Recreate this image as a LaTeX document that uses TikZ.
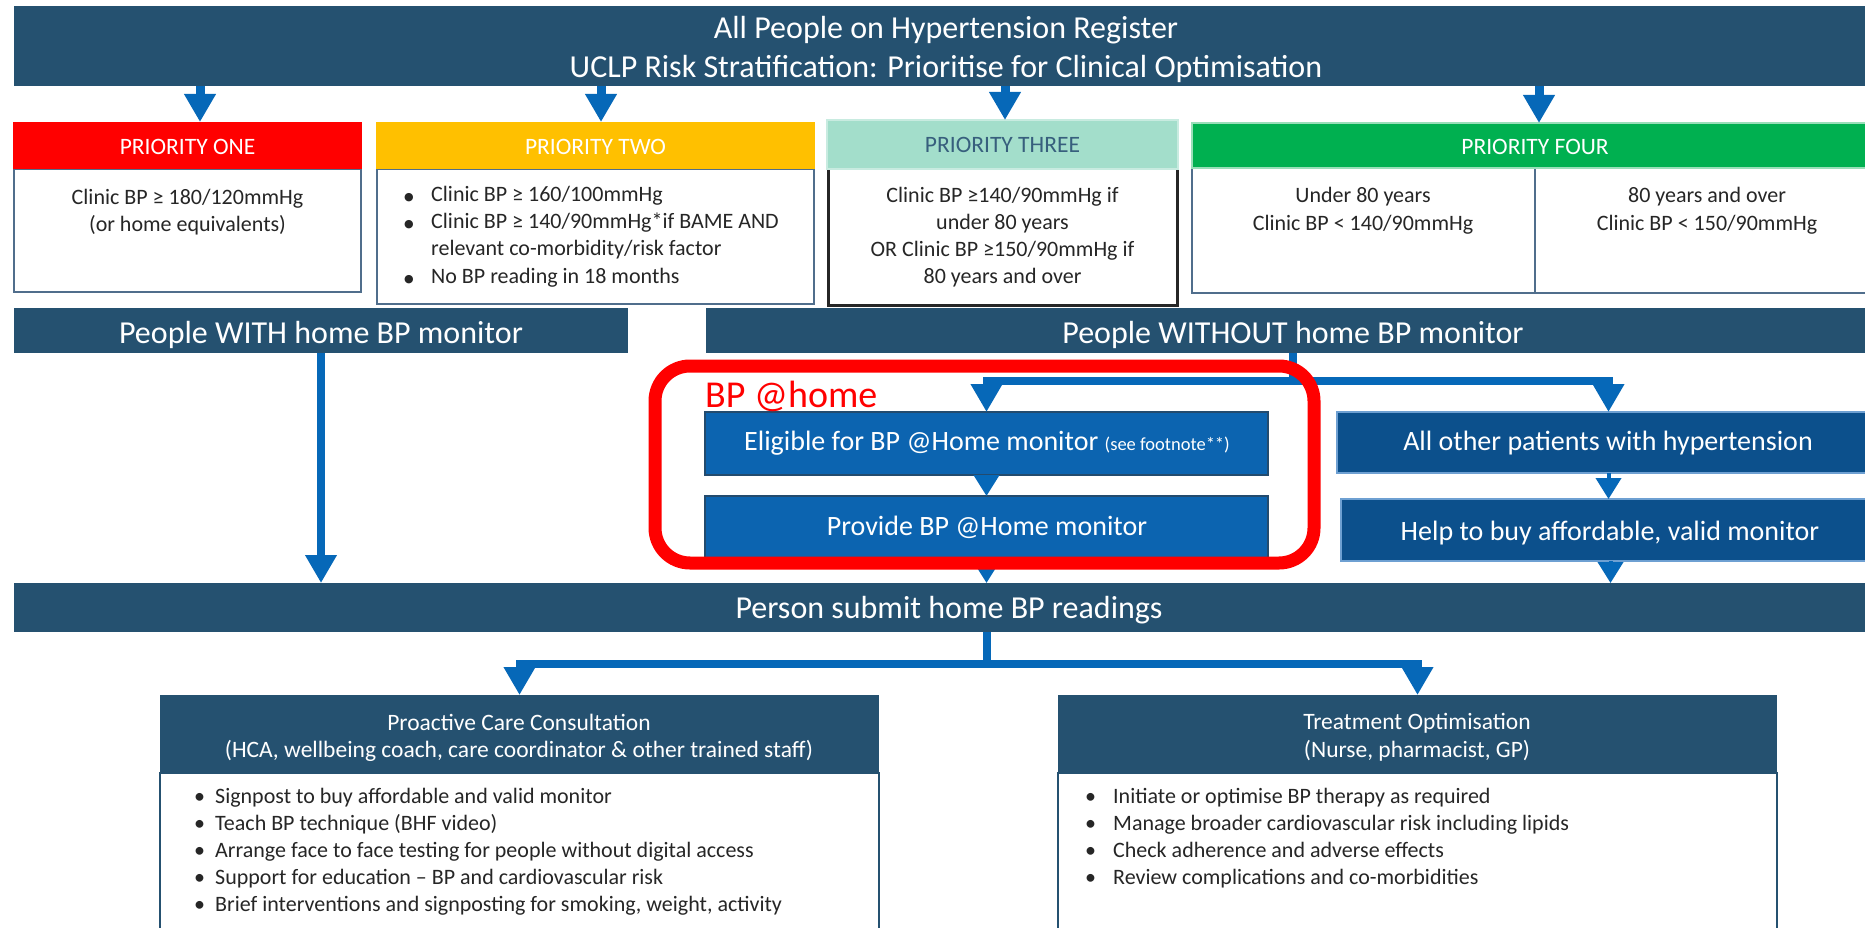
\documentclass[tikz,border=0pt]{standalone}
\usepackage{fontspec}
\setmainfont{Carlito}
\newfontfamily\symfont{DejaVu Sans}
\usetikzlibrary{arrows.meta}
\definecolor{navy}{RGB}{37,81,112}
\definecolor{arrowblue}{RGB}{6,104,184}
\definecolor{eligblue}{RGB}{12,100,176}
\definecolor{eligborder}{RGB}{35,75,110}
\definecolor{otherblue}{RGB}{12,80,140}
\definecolor{otherborder}{RGB}{110,160,210}
\definecolor{bodyborder}{RGB}{80,110,140}
\definecolor{pone}{RGB}{255,0,0}
\definecolor{ptwo}{RGB}{255,192,0}
\definecolor{pthree}{RGB}{163,222,203}
\definecolor{pthreetext}{RGB}{55,95,125}
\definecolor{pfour}{RGB}{0,176,80}
\definecolor{textgrey}{RGB}{38,38,38}
\definecolor{bpred}{RGB}{255,0,0}
\newcommand\fsz[2]{\fontsize{#1}{#2}\selectfont}
\newcommand\bigbul{\makebox[27pt][l]{\raisebox{1pt}{\symfont\fontsize{11}{11}\selectfont ●}}}
\newcommand\lbul[1]{\makebox[#1][l]{•}}
\begin{document}
\begin{tikzpicture}[x=1pt,y=-1pt,
  box/.style={anchor=north west, inner sep=0pt, outer sep=0pt},
  banner/.style={box, fill=navy},
  pbody/.style={box, fill=white, draw=bodyborder, line width=2.5pt},
  bluebox/.style={box, fill=eligblue, draw=eligborder, line width=2pt},
  otherbox/.style={box, fill=otherblue, draw=otherborder, line width=2.5pt},
  wtext/.style={text=white, inner sep=0pt, anchor=base},
  gtext/.style={text=textgrey, inner sep=0pt, anchor=base},
  bigarrow/.style={draw=arrowblue, line width=9pt, -{Triangle[width=30pt,length=28pt]}},
  linkarrow/.style={draw=arrowblue, line width=8pt, -{Triangle[width=30pt,length=28pt]}},
  smallarrow/.style={draw=arrowblue, line width=4pt, -{Triangle[width=25pt,length=21pt]}},
]
\useasboundingbox (0,0) rectangle (1865,928);
\clip (0,0) rectangle (1865,928);

% title (multi-line nodes: base = baseline of the last line)
\node[banner, minimum width=1864pt, minimum height=80pt] (title) at (14,6) {};
\node[wtext, font=\fsz{32}{39}, align=center] (titletext) at (946,78)
  {All People on Hypertension Register\\UCLP Risk Stratification: Prioritise for Clinical Optimisation};

% priority one
\node[pbody, minimum width=347pt, minimum height=123pt] (p1b) at (14,169) {};
\node[box, fill=pone, minimum width=349pt, minimum height=47pt] (p1h) at (13,122) {};
\node[wtext, font=\fsz{23.5}{27}] (p1ht) at (187.5,155) {PRIORITY ONE};
\node[gtext, font=\fsz{22}{27}, align=center] (p1bt) at (187.5,231)
  {Clinic BP ≥ 180/120mmHg\\(or home equivalents)};

% priority two
\node[pbody, minimum width=437pt, minimum height=135pt] (p2b) at (377,169) {};
\node[box, fill=ptwo, minimum width=439pt, minimum height=47pt] (p2h) at (376,122) {};
\node[wtext, font=\fsz{23.5}{27}] (p2ht) at (595.5,155) {PRIORITY TWO};
\node[gtext, anchor=base west, font=\fsz{22}{27.3}, align=left] (p2bt) at (404,283)
  {\bigbul Clinic BP ≥ 160/100mmHg\\
   \bigbul Clinic BP ≥ 140/90mmHg*if BAME AND\\
   \hspace*{27pt}relevant co-morbidity/risk factor\\
   \bigbul No BP reading in 18 months};

% priority three
\node[box, fill=white, draw=black!85, line width=3pt, minimum width=349pt, minimum height=136pt] (p3b) at (828,169) {};
\node[box, fill=pthree, draw=pthree!60!white, line width=1.5pt, minimum width=351pt, minimum height=49pt] (p3h) at (827,120) {};
\node[wtext, text=pthreetext, font=\fsz{23.5}{27}] (p3ht) at (1002.5,153) {PRIORITY THREE};
\node[gtext, font=\fsz{22}{26.7}, align=center] (p3bt) at (1002.5,283)
  {Clinic BP ≥140/90mmHg if\\under 80 years\\OR Clinic BP ≥150/90mmHg if\\80 years and over};

% priority four
\node[pbody, minimum width=343pt, minimum height=125pt] (p4l) at (1192,168) {};
\node[pbody, minimum width=343pt, minimum height=125pt] (p4r) at (1535,168) {};
\node[box, fill=pfour, draw=pfour!40!white, line width=1.5pt, minimum width=686pt, minimum height=45pt] (p4h) at (1192,123) {};
\node[wtext, font=\fsz{23.5}{27}] (p4ht) at (1535,155) {PRIORITY FOUR};
\node[gtext, font=\fsz{22}{28}, align=center] (p4lt) at (1363,230)
  {Under 80 years\\Clinic BP < 140/90mmHg};
\node[gtext, font=\fsz{22}{28}, align=center] (p4rt) at (1707,230)
  {80 years and over\\Clinic BP < 150/90mmHg};

% with / without
\node[banner, minimum width=614pt, minimum height=45pt] (with) at (14,308) {};
\node[wtext, font=\fsz{32}{39}] (witht) at (321,343) {People WITH home BP monitor};
\node[banner, minimum width=1174pt, minimum height=45pt] (without) at (706,308) {};
\node[wtext, font=\fsz{32}{39}] (withoutt) at (1293,343) {People WITHOUT home BP monitor};

% BP @home boxes
\node[bluebox, minimum width=563pt, minimum height=63pt] (elig) at (705,412) {};
\node[wtext, font=\fsz{28}{32}] (eligt) at (987,450)
  {Eligible for BP @Home monitor {\fsz{18.5}{20}(see footnote**)}};
\node[bluebox, minimum width=563pt, minimum height=64pt] (provide) at (705,496) {};
\node[wtext, font=\fsz{28}{32}] (providet) at (987,535) {Provide BP @Home monitor};

% other patients
\node[otherbox, minimum width=543pt, minimum height=61pt] (other) at (1337,412) {};
\node[wtext, font=\fsz{28}{32}] (othert) at (1608,450) {All other patients with hypertension};
\node[otherbox, minimum width=539pt, minimum height=62pt] (help) at (1341,499) {};
\node[wtext, font=\fsz{28}{32}] (helpt) at (1610,540) {Help to buy affordable, valid monitor};

% submit
\node[banner, minimum width=1866pt, minimum height=49pt] (submit) at (14,583) {};
\node[wtext, font=\fsz{32}{39}] (submitt) at (949,618) {Person submit home BP readings};

% proactive care
\node[box, fill=white, draw=navy, line width=2.5pt, minimum width=719pt, minimum height=170pt] (pcb) at (160,773) {};
\node[banner, minimum width=719pt, minimum height=78pt] (pch) at (160,695) {};
\node[wtext, font=\fsz{23.5}{27}, align=center] (pcht) at (519,757)
  {Proactive Care Consultation\\(HCA, wellbeing coach, care coordinator \& other trained staff)};
\node[gtext, anchor=base west, font=\fsz{22}{27}, align=left] (pcbt) at (194,911)
  {\lbul{21pt}Signpost to buy affordable and valid monitor\\
   \lbul{21pt}Teach BP technique (BHF video)\\
   \lbul{21pt}Arrange face to face testing for people without digital access\\
   \lbul{21pt}Support for education – BP and cardiovascular risk\\
   \lbul{21pt}Brief interventions and signposting for smoking, weight, activity};

% treatment optimisation
\node[box, fill=white, draw=navy, line width=2.5pt, minimum width=719pt, minimum height=170pt] (tob) at (1058,773) {};
\node[banner, minimum width=719pt, minimum height=78pt] (toh) at (1058,695) {};
\node[wtext, font=\fsz{23.5}{28}, align=center] (toht) at (1417,757)
  {Treatment Optimisation\\(Nurse, pharmacist, GP)};
\node[gtext, anchor=base west, font=\fsz{22}{27}, align=left] (tobt) at (1085,884)
  {\lbul{28pt}Initiate or optimise BP therapy as required\\
   \lbul{28pt}Manage broader cardiovascular risk including lipids\\
   \lbul{28pt}Check adherence and adverse effects\\
   \lbul{28pt}Review complications and co-morbidities};

% connectors
\coordinate (a1) at ([xshift=12.5pt]p1h.north);
\coordinate (a2) at ([xshift=5.5pt]p2h.north);
\coordinate (a3) at ([xshift=2.5pt]p3h.north);
\coordinate (a4) at ([xshift=4pt]p4h.north);
\draw[bigarrow] (title.south -| a1) -- (a1);
\draw[bigarrow] (title.south -| a2) -- (a2);
\draw[bigarrow] (title.south -| a3) -- (a3);
\draw[bigarrow] (title.south -| a4) -- (a4);
\draw[linkarrow] (with.south) -- (submit.north -| with.south);
\draw[linkarrow] (without.south) -- ++(0,28) -| (elig.north);
\draw[linkarrow] (without.south) -- ++(0,28) -| (other.north);
\draw[smallarrow] (elig.south) -- (provide.north);
\draw[smallarrow] (provide.south) -- (submit.north -| provide.south);
\draw[smallarrow] (other.south) -- (help.north -| other.south);
\draw[smallarrow] (help.south) -- (submit.north -| help.south);
\draw[linkarrow] (submit.south -| provide.south) -- ++(0,32) -| (pch.north);
\draw[linkarrow] (submit.south -| provide.south) -- ++(0,32) -| (toh.north);

% BP @home highlight
\node[draw=bpred, line width=13pt, rounded corners=35pt, minimum width=659pt, minimum height=197pt, inner sep=0pt] (bphome) at (984.5,464.5) {};
\node[text=bpred, font=\fsz{38}{40}, anchor=base west, inner sep=0pt] (bphomet) at (705,407) {BP @home};
\end{tikzpicture}
\end{document}
